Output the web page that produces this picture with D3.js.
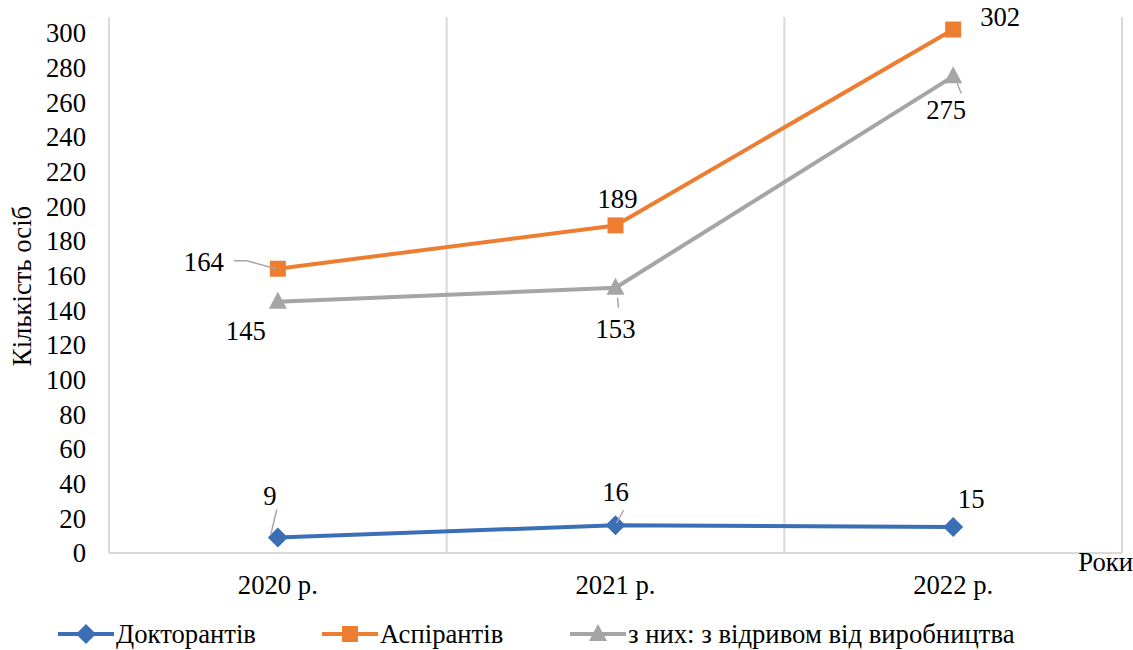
<!DOCTYPE html>
<html>
<head>
<meta charset="utf-8">
<script src="https://cdn.jsdelivr.net/npm/d3@7"></script>
<style>
  text { font-family: "Liberation Serif", "Times New Roman", serif !important; }
</style>
</head>
<body style="margin:0; background:#fff">
<svg id="fig" width="1133" height="650" font-family="Liberation Serif"></svg>
<script>
// data
var years = ["2020 р.", "2021 р.", "2022 р."];
var doctoral = [9, 16, 15];
var postgrad = [164, 189, 302];
var fullTime = [145, 153, 275];
var yTicks = [0, 20, 40, 60, 80, 100, 120, 140, 160, 180, 200, 220, 240, 260, 280, 300];
var seriesNames = ["Докторантів", "Аспірантів", "з них: з відривом від виробництва"];

(function() {
var FONT = "Liberation Serif";

var series = [
  {name: seriesNames[0], values: doctoral, color: "#3A6FB5", marker: "diamond"},
  {name: seriesNames[1], values: postgrad, color: "#ED7D31", marker: "square"},
  {name: seriesNames[2], values: fullTime, color: "#A5A5A5", marker: "triangle"}
];

// label placement (offsets from the point) and leader lines
var labelPos = [
  [{dx: -8, dy: -41, leader: [[-1, -28], [-7, -3]]}, {dx: 0, dy: -33, leader: [[8, -15], [1, -2]]}, {dx: 18, dy: -28}],
  [{dx: -54, dy: -7, anchor: "end", leader: [[-44, -8], [-31, -8], [-2, 0]]}, {dx: 2, dy: -26}, {dx: 47, dy: -12}],
  [{dx: -32, dy: 30}, {dx: 0, dy: 41, leader: [[3, 20], [2, 10]]}, {dx: -7, dy: 34, leader: [[8, 17], [4, 7]]}]
];

var svg = d3.select("#fig");
var plotLeft = 109, plotRight = 1122, plotTop = 17, plotBottom = 553;

var x = d3.scaleBand().domain(years).range([plotLeft, plotRight]);
var y = d3.scaleLinear().domain([0, 300]).range([plotBottom, 33]);

function txt(sel) {
  return sel.style("font-family", FONT, "important")
    .style("font-size", "26.7px").attr("fill", "#000");
}

// vertical category gridlines & frame
var bounds = [plotLeft].concat(years.map(function(d) { return x(d) + x.bandwidth(); }));
svg.append("g").selectAll("line")
  .data(bounds)
  .enter().append("line")
  .attr("x1", function(d) { return d; })
  .attr("x2", function(d) { return d; })
  .attr("y1", plotTop).attr("y2", plotBottom)
  .attr("stroke", "#D9D9D9").attr("stroke-width", 2);

svg.append("line")
  .attr("x1", plotLeft).attr("x2", plotRight)
  .attr("y1", plotBottom).attr("y2", plotBottom)
  .attr("stroke", "#D9D9D9").attr("stroke-width", 2);

// y axis
var yAxis = svg.append("g")
  .attr("transform", "translate(" + plotLeft + ",0)")
  .call(d3.axisLeft(y).tickValues(yTicks).tickSize(0).tickPadding(23));
yAxis.attr("font-family", null).attr("font-size", null);
yAxis.select(".domain").remove();
txt(yAxis.selectAll("text")).attr("dy", "0.33em");

// x axis
var xAxis = svg.append("g")
  .attr("transform", "translate(0," + plotBottom + ")")
  .call(d3.axisBottom(x).tickSize(0).tickPadding(22));
xAxis.attr("font-family", null).attr("font-size", null);
xAxis.select(".domain").remove();
txt(xAxis.selectAll("text"));

// axis titles
txt(svg.append("text"))
  .attr("transform", "translate(31,286) rotate(-90)")
  .attr("text-anchor", "middle")
  .text("Кількість осіб");

txt(svg.append("text"))
  .attr("x", 1133).attr("y", 571)
  .attr("text-anchor", "end")
  .text("Роки");

function markerPath(type) {
  if (type === "diamond") return "M0,-10L10,0L0,10L-10,0Z";
  if (type === "square") return "M-8,-8H8V8H-8Z";
  return "M0,-10L9,7L-9,7Z";
}

var line = d3.line()
  .x(function(d, i) { return x(years[i]) + x.bandwidth() / 2; })
  .y(function(d) { return y(d); });

series.forEach(function(s, si) {
  var g = svg.append("g");
  g.append("path")
    .attr("d", line(s.values))
    .attr("fill", "none")
    .attr("stroke", s.color)
    .attr("stroke-width", 4)
    .attr("stroke-linejoin", "round");

  g.selectAll("path.m")
    .data(s.values)
    .enter().append("path")
    .attr("class", "m")
    .attr("transform", function(d, i) {
      return "translate(" + (x(years[i]) + x.bandwidth() / 2) + "," + y(d) + ")";
    })
    .attr("d", markerPath(s.marker))
    .attr("fill", s.color);

  s.values.forEach(function(v, i) {
    var px = x(years[i]) + x.bandwidth() / 2, py = y(v);
    var lp = labelPos[si][i];
    if (lp.leader) {
      svg.append("path")
        .attr("d", d3.line()(lp.leader.map(function(p) { return [px + p[0], py + p[1]]; })))
        .attr("fill", "none")
        .attr("stroke", "#A6A6A6")
        .attr("stroke-width", 1.5);
    }
    txt(svg.append("text"))
      .attr("x", px + lp.dx)
      .attr("y", py + lp.dy)
      .attr("text-anchor", lp.anchor || "middle")
      .attr("dy", "0.33em")
      .text(v);
  });
});

// legend
var legendX = [58, 322, 570];
var lg = svg.append("g").selectAll("g")
  .data(series)
  .enter().append("g")
  .attr("transform", function(d, i) { return "translate(" + legendX[i] + ",634)"; });
lg.append("line")
  .attr("x1", 0).attr("x2", 56)
  .attr("stroke", function(d) { return d.color; })
  .attr("stroke-width", 4);
lg.append("path")
  .attr("transform", "translate(28,0)")
  .attr("d", function(d) { return markerPath(d.marker); })
  .attr("fill", function(d) { return d.color; });
txt(lg.append("text"))
  .attr("x", 58).attr("dy", "0.33em")
  .text(function(d) { return d.name; });
})();
</script>
</body>
</html>
